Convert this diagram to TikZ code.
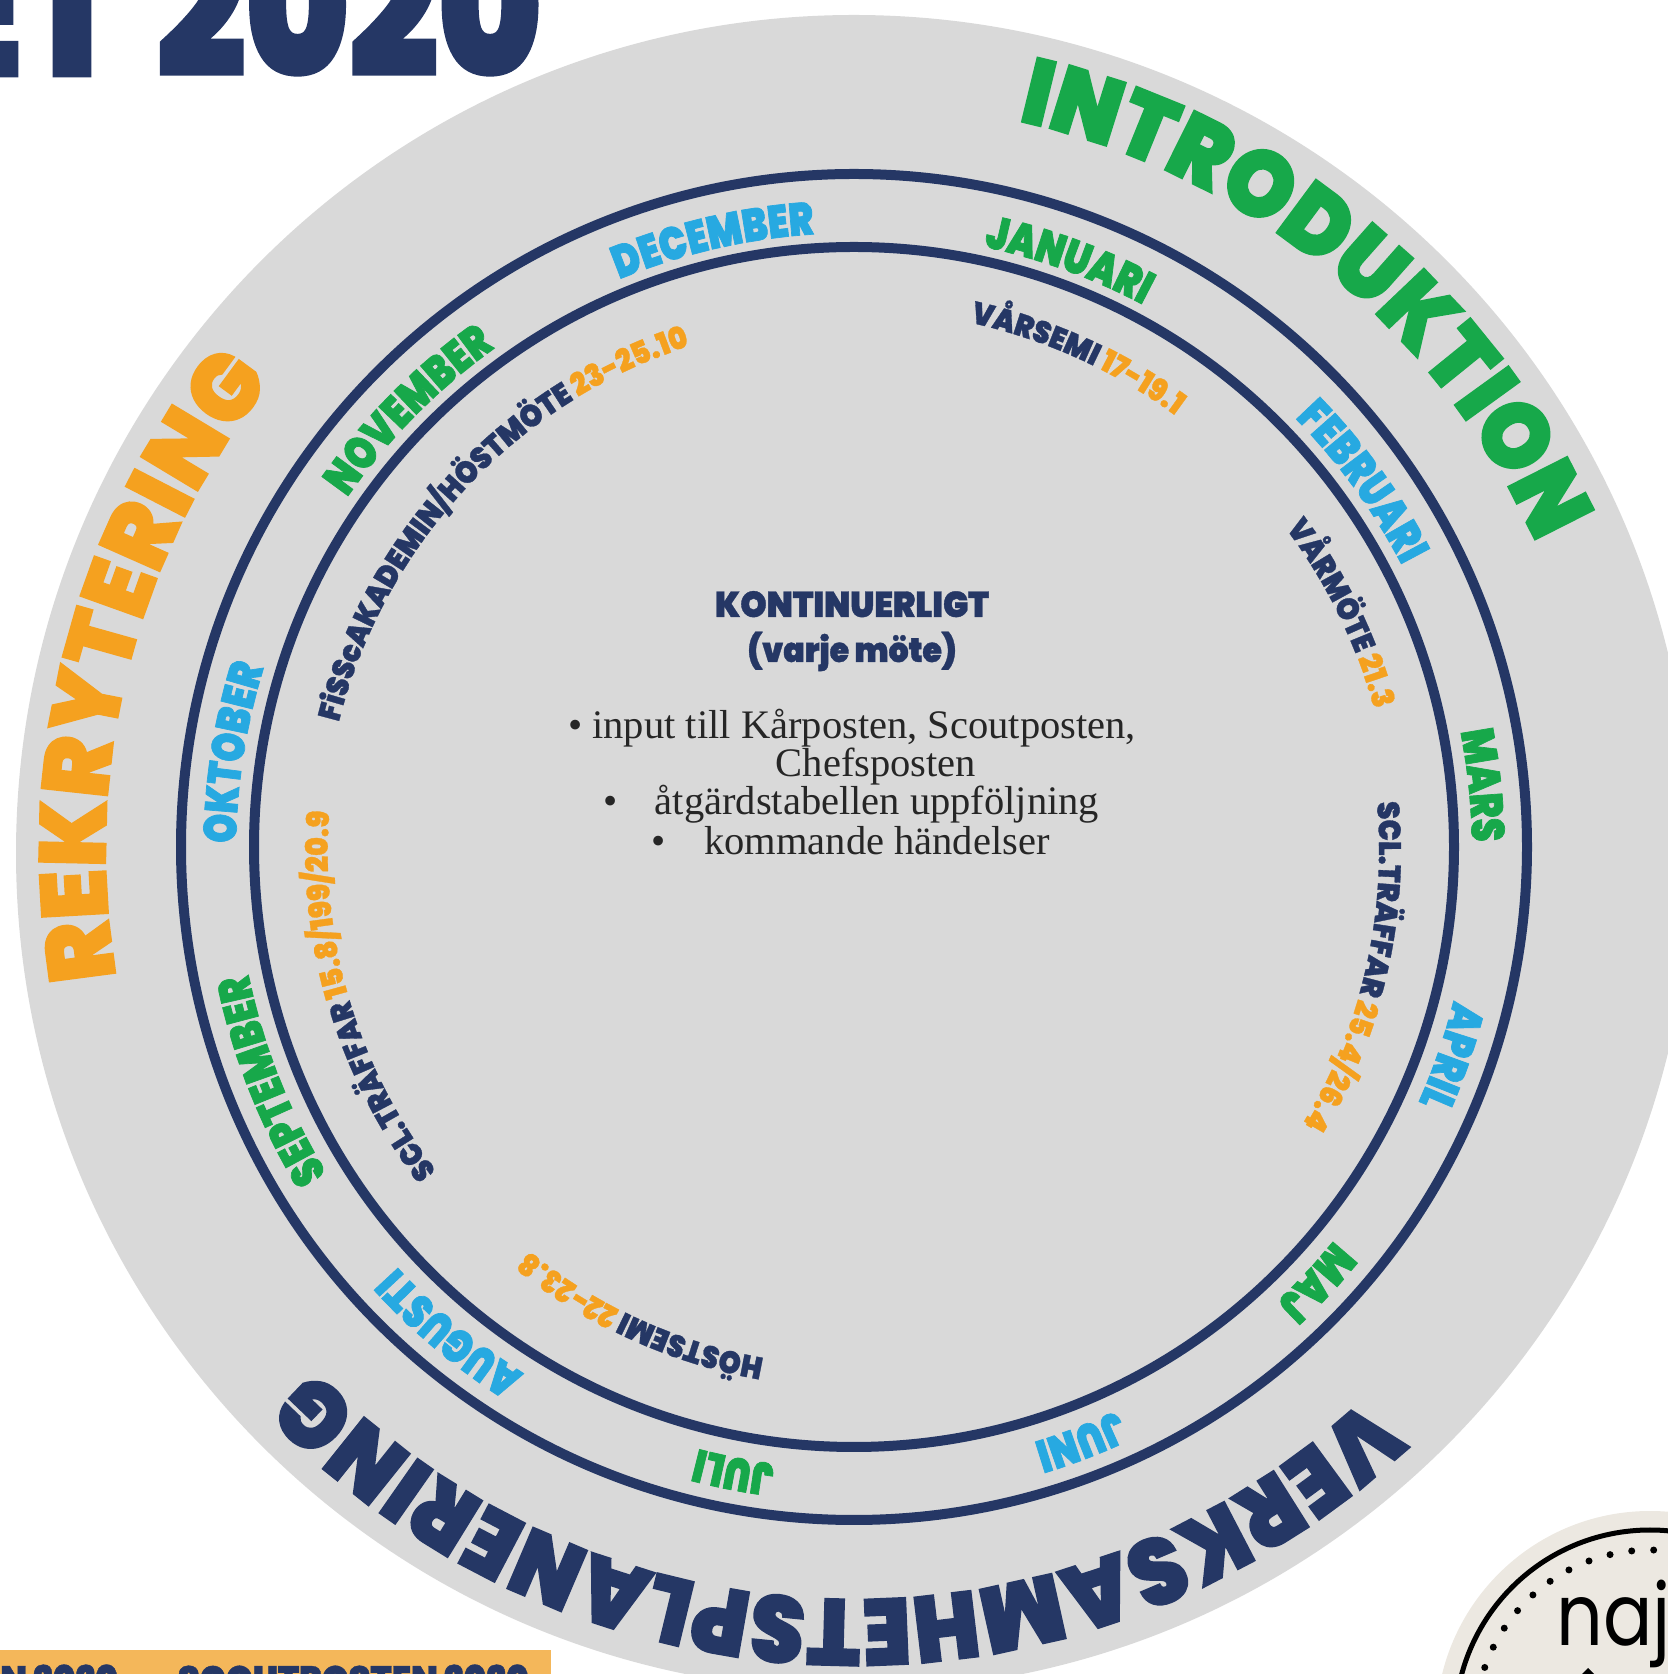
\documentclass[tikz,border=0pt]{standalone}
\usepackage{fontspec}
\usetikzlibrary{decorations.text}
\newfontfamily\hvt{Poppins}[UprightFont={* Black},FakeStretch=0.85,FakeBold=1.5]
\newfontfamily\hvd{Poppins}[UprightFont={* Black},FakeStretch=0.825,FakeBold=1.5]
\newfontfamily\hvintro{Poppins}[UprightFont={* Black},FakeStretch=0.935,FakeBold=1.5]
\newfontfamily\hvrek{Poppins}[UprightFont={* Black},FakeStretch=0.955,FakeBold=1.5]
\newfontfamily\hvverk{Poppins}[UprightFont={* Black},FakeStretch=0.925,FakeBold=1.5]
\newfontfamily\hvm{Poppins}[UprightFont={* Black},FakeStretch=0.80,FakeBold=1.5]
\newfontfamily\hvi{Poppins}[UprightFont={* Black},FakeStretch=0.91,FakeBold=1]
\newfontfamily\hvc{Poppins}[UprightFont={* Black},FakeStretch=0.93,FakeBold=1]
\newfontfamily\logofont{Poppins}[FakeStretch=0.85]
\newfontfamily\ser{Liberation Serif}
\definecolor{navy}{HTML}{253765}
\definecolor{grn}{HTML}{17A84A}
\definecolor{org}{HTML}{F5A11F}
\definecolor{sky}{HTML}{27A9E1}
\definecolor{gry}{HTML}{D9D9D9}
\definecolor{beige}{HTML}{ECE8E1}
\definecolor{strip}{HTML}{F4B75A}
\newcommand\fsz[1]{\fontsize{#1}{#1}\selectfont}
% radius, bearing, half span, text with format
\newcommand\arclab[4]{%
  \path[decorate,decoration={text along path,text align=center,text={#4}}]
    (854,823) ++({90-(#2-#3)}:#1) arc[start angle={90-(#2-#3)},end angle={90-(#2+#3)},radius=#1];}
\newcommand\biglab[4]{\arclab{748}{#1}{80}{|#4\fsz{94}\color{#2}|#3}}
\newcommand\mon[3]{\arclab{618}{#1}{35}{|\hvm\fsz{46}\color{#2}|#3}}
\newcommand\inn[4]{\arclab{#1}{#2}{60}{|\hvi\fsz{31}\color{navy}|#3|\hvi\fsz{31}\color{org}|#4}}
\tikzset{serline/.style={font=\ser\fontsize{40.5}{40.5}\selectfont,text=black!85,anchor=base,inner sep=0pt}}
\begin{document}
\begin{tikzpicture}[x=1pt,y=1pt]
\useasboundingbox (0,0) rectangle (1668,1674);
\clip (0,0) rectangle (1668,1674);
\fill[gry] (854,821) circle[radius=838];
\draw[navy,line width=10pt] (854,827) circle[radius=673];
\draw[navy,line width=10pt] (854,827) circle[radius=600];
% title
\node[anchor=base east,inner sep=0pt,text=navy,font=\hvt\fsz{190}] (title) at (122,1598) {ÅRET};
\node[anchor=base east,inner sep=0pt,text=navy,font=\hvd\fsz{190}] (year) at (542,1598) {2020};
% strip
\fill[strip] (0,0) rectangle (551,24);
\node[anchor=base east,inner sep=0pt,text=navy,font=\hvi\fsz{38}] (striptext) at (529,-19) {KÅRPOSTEN 2020\hspace{8pt} — \hspace{8pt}SCOUTPOSTEN 2020};
% logo
\fill[beige] (1650,-51) circle[radius=214];
\draw[black,line width=5pt] (1650,-51) circle[radius=195];
\foreach \a in {60,67.2,...,180}{\fill[black] (1650,-51) ++(\a:175) circle[radius=3.5];}
\node[anchor=base west,inner sep=0pt,text=black,font=\logofont\fsz{86}] (logo) at (1556,28) {naj};
\fill[black] (1588,6) -- (1600,-6) -- (1576,-6) -- cycle;
% big
\biglab{39.2}{grn}{INTRODUKTION}{\hvintro}
\biglab{284.6}{org}{REKRYTERING}{\hvrek}
\biglab{181.5}{navy}{VERKSAMHETSPLANERING}{\hvverk}
% months
\mon{-13}{sky}{DECEMBER}
\mon{20}{grn}{JANUARI}
\mon{54}{sky}{FEBRUARI}
\mon{84}{grn}{MARS}
\mon{109}{sky}{APRIL}
\mon{133}{grn}{MAJ}
\mon{159}{sky}{JUNI}
\mon{191}{grn}{JULI}
\mon{220}{sky}{AUGUSTI}
\mon{248.5}{grn}{SEPTEMBER}
\mon{279}{sky}{OKTOBER}
\mon{314.7}{grn}{NOVEMBER}
% inner
\inn{541}{24.4}{VÅRSEMI }{17-19.1}
\inn{539}{64}{VÅRMÖTE }{21.3}
\inn{525}{103}{SCL.TRÄFFAR }{25.4/26.4}
\inn{515}{204.6}{HÖSTSEMI }{22-23.8}
\inn{526}{253.4}{SCL.TRÄFFAR }{15.8/199/20.9}
\inn{531}{313}{FiSScAKADEMIN/HÖSTMÖTE }{23-25.10}
% centre
\node[anchor=base,inner sep=0pt,text=navy,font=\hvc\fsz{36}] (kont) at (852,1057) {KONTINUERLIGT};
\node[anchor=base,inner sep=0pt,text=navy,font=\hvc\fsz{34}] (varje) at (852,1012) {(varje möte)};
\node[serline] (l1) at (852,935) {• input till Kårposten, Scoutposten,};
\node[serline] (l2) at (876,897) {Chefsposten};
\node[serline] (l3) at (877,859) {åtgärdstabellen uppföljning};
\node[serline] (l4) at (877,819) {kommande händelser};
\node[serline] (b3) at (611,859) {•};
\node[serline] (b4) at (659,819) {•};
\end{tikzpicture}
\end{document}
